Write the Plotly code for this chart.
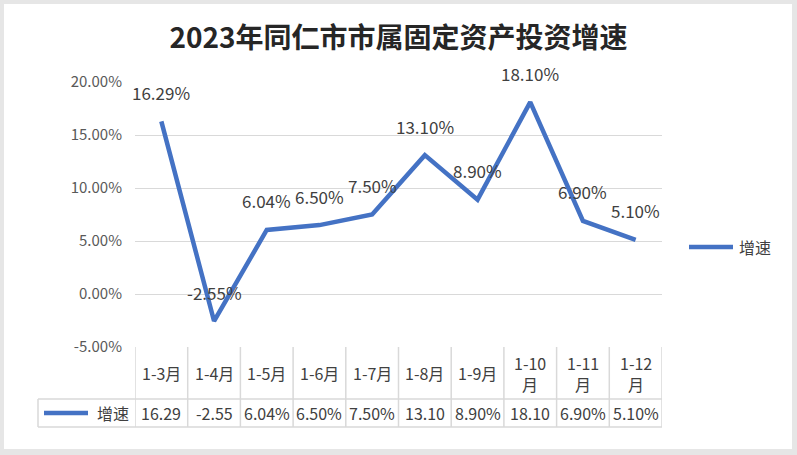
import plotly.graph_objects as go

categories = ["1-3月", "1-4月", "1-5月", "1-6月", "1-7月", "1-8月", "1-9月", "1-10月", "1-11月", "1-12月"]
growth = [16.29, -2.55, 6.04, 6.50, 7.50, 13.10, 8.90, 18.10, 6.90, 5.10]
series_name = "增速"
title_text = "2023年同仁市市属固定资产投资增速"
y_ticks = [-5, 0, 5, 10, 15, 20]

W, H = 797, 455
L, R, T, B = 135, 662, 82, 347   # plot area in pixels
pw, ph = R - L, B - T

def px(x):
    return (x - L) / pw

def py(y):
    return (B - y) / ph

FONT = "Noto Sans CJK SC"
LINE = "#4472c4"
GRID = "#d9d9d9"
TXT = "#404040"

xs = list(range(len(categories)))
fig = go.Figure()
fig.add_trace(go.Scatter(x=xs, y=growth, mode="lines", line=dict(color=LINE, width=4.5),
                         name=series_name, showlegend=False, hoverinfo="skip"))

shapes = []
annotations = []

# white card on grey background
shapes.append(dict(type="rect", xref="paper", yref="paper", x0=px(4), x1=px(792), y0=py(449), y1=py(4),
                   fillcolor="white", line=dict(width=0), layer="below"))

# data labels
for x, v in zip(xs, growth):
    annotations.append(dict(x=x, y=v, xref="x", yref="y", text=f"{v:.2f}%", showarrow=False,
                            yshift=29, yanchor="middle", font=dict(family=FONT, size=17, color=TXT)))

# data table
tbl_line = dict(color=GRID, width=1.5)
row1 = 399
row2 = 427
leg_left = 38
for i in range(len(categories) + 1):
    xv = i - 0.5
    shapes.append(dict(type="line", xref="x", yref="paper", x0=xv, x1=xv, y0=py(B), y1=py(row2), line=tbl_line))
shapes.append(dict(type="line", xref="paper", yref="paper", x0=px(leg_left), x1=px(leg_left), y0=py(row1), y1=py(row2), line=tbl_line))
for yy in (row1, row2):
    shapes.append(dict(type="line", xref="paper", yref="paper", x0=px(leg_left), x1=1, y0=py(yy), y1=py(yy), line=tbl_line))

for x, c, v in zip(xs, categories, growth):
    head = c if len(c) <= 4 else c[:-1] + "<br>月"
    annotations.append(dict(x=x, y=py(373), xref="x", yref="paper", text=head, showarrow=False,
                            xanchor="center", yanchor="middle",
                            font=dict(family=FONT, size=16, color=TXT), align="center"))
    val = f"{v:.2f}%"
    val = val[:5]  # clipped by the narrow cell, as in the original table
    annotations.append(dict(x=x, y=py(413), xref="x", yref="paper", text=val, showarrow=False,
                            xanchor="center", yanchor="middle",
                            font=dict(family=FONT, size=16, color=TXT)))

# legend key in table
shapes.append(dict(type="line", xref="paper", yref="paper", x0=px(44), x1=px(88), y0=py(413), y1=py(413),
                   line=dict(color=LINE, width=4.5)))
annotations.append(dict(x=px(95), y=py(413), xref="paper", yref="paper", text=series_name, showarrow=False,
                        xanchor="left", yanchor="middle", font=dict(family=FONT, size=16, color=TXT)))

# right legend
shapes.append(dict(type="line", xref="paper", yref="paper", x0=px(689), x1=px(733), y0=py(247), y1=py(247),
                   line=dict(color=LINE, width=4.5)))
annotations.append(dict(x=px(737), y=py(247), xref="paper", yref="paper", text=series_name, showarrow=False,
                        xanchor="left", yanchor="middle", font=dict(family=FONT, size=16, color=TXT)))

fig.update_layout(
    width=W, height=H,
    margin=dict(l=L, r=W - R, t=T, b=H - B),
    paper_bgcolor="#e6e6e6", plot_bgcolor="rgba(0,0,0,0)",
    title=dict(text=f"<b>{title_text}</b>", x=0.5, xref="paper", xanchor="center",
               y=1 - 38 / H, yanchor="middle", font=dict(family=FONT, size=28, color="#262626")),
    xaxis=dict(range=[-0.5, len(categories) - 0.5], showgrid=False, showticklabels=False,
               zeroline=False, showline=False, fixedrange=True),
    yaxis=dict(range=[-5, 20], tickvals=y_ticks, ticktext=[f"{t:.2f}%" for t in y_ticks],
               showgrid=True, gridcolor=GRID, gridwidth=1.3, zeroline=False, showline=False,
               ticks="", ticklabelstandoff=12, tickfont=dict(family=FONT, size=15, color="#595959")),
    shapes=shapes, annotations=annotations, showlegend=False,
)

fig.write_html("out.html")
